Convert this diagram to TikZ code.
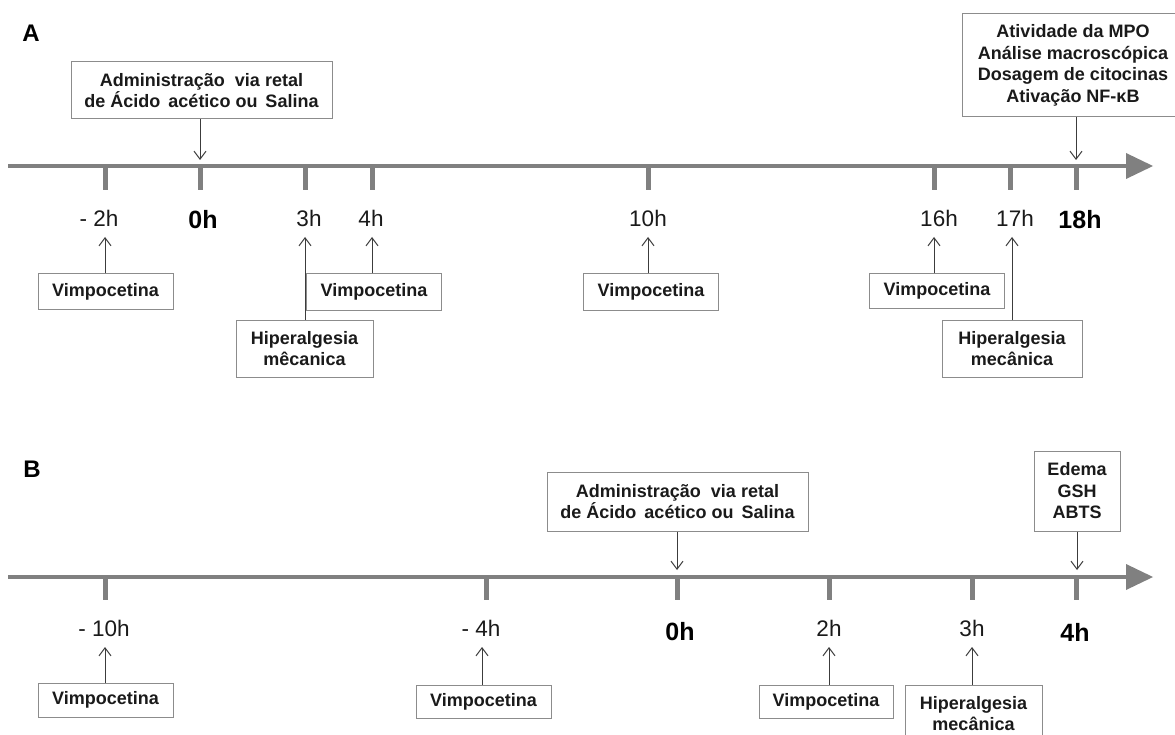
\documentclass[tikz,border=0pt]{standalone}
\usepackage{fontspec}
\setmainfont{Liberation Sans}
\usetikzlibrary{arrows.meta}
\definecolor{axisgray}{RGB}{128,128,128}
\definecolor{boxgray}{RGB}{140,140,140}
\definecolor{arrowgray}{RGB}{60,60,60}
\definecolor{txt}{RGB}{26,26,26}
\begin{document}
\begin{tikzpicture}[x=1pt,y=-1pt,
  box/.style={draw=boxgray, line width=1pt, fill=white, inner sep=0pt, align=center, text=txt,
              font=\bfseries\fontsize{18}{21.5}\selectfont},
  tlabel/.style={inner sep=0pt, text=txt, font=\fontsize{22.5}{26}\selectfont},
  blabel/.style={inner sep=0pt, text=black, font=\bfseries\fontsize{25}{28}\selectfont},
  panel/.style={inner sep=0pt, text=black, font=\bfseries\fontsize{24}{28}\selectfont},
  axisline/.style={draw=axisgray, line width=4.5pt},
  axishead/.style={fill=axisgray},
  tickmark/.style={draw=axisgray, line width=5pt},
  ptr/.style={draw=arrowgray, line width=1pt, -{Straight Barb[length=8pt,width=12pt]}},
  vbox/.style={box, minimum width=135pt, minimum height=35pt},
  hbox/.style={box, minimum width=137pt, minimum height=57pt},
]
\clip (0,0) rectangle (1175,735);
\fill[white] (0,0) rectangle (1175,735);

% ---------------- Panel A ----------------
\node[panel] (pA) at (31,33) {A};
\coordinate (aA0) at (8,166);
\coordinate (aA1) at (1128,166);
\draw[axisline] (aA0) -- (aA1);
\fill[axishead] (1126,153) -- (1153,166) -- (1126,179) -- cycle;
\foreach \x in {105,200,305,372,648,934,1010,1076}
  \draw[tickmark] (\x,166) -- (\x,190);

\node[tlabel] (lA1) at (99,218) {- 2h};
\node[blabel] (lA2) at (203,220) {0h};
\node[tlabel] (lA3) at (309,218) {3h};
\node[tlabel] (lA4) at (371,218) {4h};
\node[tlabel] (lA5) at (648,218) {10h};
\node[tlabel] (lA6) at (939,218) {16h};
\node[tlabel] (lA7) at (1015,218) {17h};
\node[blabel] (lA8) at (1080,220) {18h};

\node[box, minimum width=261pt, minimum height=57pt] (admA) at (201.5,90.5)
  {Administração\ \ via retal\\de Ácido\hspace{3pt} acético ou\hspace{3pt} Salina};
\node[box, minimum width=222pt, minimum height=103pt] (resA) at (1073,65.5)
  {Atividade da MPO\\Análise macroscópica\\Dosagem de citocinas\\Ativação NF-κB};

\node[vbox] (vA1) at (105.5,291.5) {Vimpocetina};
\node[vbox, minimum height=36pt] (vA2) at (374,292) {Vimpocetina};
\node[hbox] (hA1) at (304.5,348.5) {Hiperalgesia\\mêcanica};
\node[vbox, minimum height=36pt] (vA3) at (651,292) {Vimpocetina};
\node[vbox, minimum height=34pt] (vA4) at (937,291) {Vimpocetina};
\node[hbox, minimum width=140pt] (hA2) at (1012,348.5) {Hiperalgesia\\mecânica};

\coordinate (dA0) at (200,160);
\coordinate (dA8) at (1076,160);
\coordinate (uA1) at (105,237);
\coordinate (uA3) at (305,237);
\coordinate (uA4) at (372,237);
\coordinate (uA5) at (648,237);
\coordinate (uA6) at (934,237);
\coordinate (uA7) at (1012,237);
\draw[ptr] (dA0 |- admA.south) -- (dA0);
\draw[ptr] (dA8 |- resA.south) -- (dA8);
\draw[ptr] (uA1 |- vA1.north) -- (uA1);
\draw[ptr] (uA3 |- hA1.north) -- (uA3);
\draw[ptr] (uA4 |- vA2.north) -- (uA4);
\draw[ptr] (uA5 |- vA3.north) -- (uA5);
\draw[ptr] (uA6 |- vA4.north) -- (uA6);
\draw[ptr] (uA7 |- hA2.north) -- (uA7);

% ---------------- Panel B ----------------
\node[panel] (pB) at (32,469) {B};
\coordinate (aB0) at (8,577);
\coordinate (aB1) at (1128,577);
\draw[axisline] (aB0) -- (aB1);
\fill[axishead] (1126,564) -- (1153,577) -- (1126,590) -- cycle;
\foreach \x in {105,486,677,829,972,1076}
  \draw[tickmark] (\x,577) -- (\x,600);

\node[tlabel] (lB1) at (104,628) {- 10h};
\node[tlabel] (lB2) at (481,628) {- 4h};
\node[blabel] (lB3) at (680,632) {0h};
\node[tlabel] (lB4) at (829,628) {2h};
\node[tlabel] (lB5) at (972,628) {3h};
\node[blabel] (lB6) at (1075,632) {4h};

\node[box, minimum width=261pt, minimum height=59pt] (admB) at (677.5,501.5)
  {Administração\ \ via retal\\de Ácido\hspace{3pt} acético ou\hspace{3pt} Salina};
\node[box, minimum width=86pt, minimum height=80pt] (resB) at (1077,491)
  {Edema\\GSH\\ABTS};

\node[vbox, minimum height=34pt] (vB1) at (105.5,700) {Vimpocetina};
\node[vbox, minimum height=33pt] (vB2) at (483.5,701.5) {Vimpocetina};
\node[vbox, minimum width=134pt, minimum height=33pt] (vB3) at (826,701.5) {Vimpocetina};
\node[hbox] (hB) at (973.5,713.5) {Hiperalgesia\\mecânica};

\coordinate (dB0) at (677,570);
\coordinate (dB6) at (1077,570);
\coordinate (uB1) at (105,647);
\coordinate (uB2) at (482,647);
\coordinate (uB4) at (829,647);
\coordinate (uB5) at (972,647);
\draw[ptr] (dB0 |- admB.south) -- (dB0);
\draw[ptr] (dB6 |- resB.south) -- (dB6);
\draw[ptr] (uB1 |- vB1.north) -- (uB1);
\draw[ptr] (uB2 |- vB2.north) -- (uB2);
\draw[ptr] (uB4 |- vB3.north) -- (uB4);
\draw[ptr] (uB5 |- hB.north) -- (uB5);
\end{tikzpicture}
\end{document}
